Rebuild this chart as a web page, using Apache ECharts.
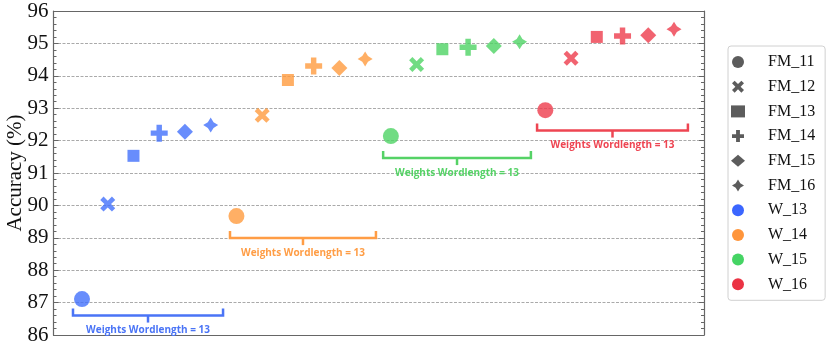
<!DOCTYPE html>
<html lang="en">
<head>
    <meta charset="UTF-8">
    <title>Accuracy</title>
    <script src="https://cdn.jsdelivr.net/npm/echarts@6/dist/echarts.min.js"></script>
</head>
<body style="margin:0">
<div id="container" style="width:830px;height:351px"></div>
<script type="text/javascript">
    // legend / series names
    var shapeNames = ['FM_11', 'FM_12', 'FM_13', 'FM_14', 'FM_15', 'FM_16'];
    var groupNames = ['W_13', 'W_14', 'W_15', 'W_16'];

    // accuracy (%) per weights wordlength, one value per FM wordlength
    var accW13 = [87.11, 90.04, 91.53, 92.23, 92.27, 92.48];
    var accW14 = [89.67, 92.78, 93.87, 94.30, 94.24, 94.52];
    var accW15 = [92.14, 94.35, 94.82, 94.88, 94.92, 95.05];
    var accW16 = [92.94, 94.54, 95.20, 95.23, 95.25, 95.44];

    // bracket annotations (x in point index units, y in accuracy)
    var bracketStart = [-0.35, 5.75, 11.7, 17.68];
    var bracketEnd = [5.48, 11.42, 17.44, 23.54];
    var bracketY = [86.6, 88.99, 91.46, 92.31];
    var bracketText = ['Weights Wordlength = 13', 'Weights Wordlength = 13', 'Weights Wordlength = 13', 'Weights Wordlength = 13'];

    var yTicks = [86, 87, 88, 89, 90, 91, 92, 93, 94, 95, 96];
    var yTitle = 'Accuracy (%)';

    var accs = [accW13, accW14, accW15, accW16];
    var legendColors = ['#0a40ff', '#ff7b0a', '#17c93d', '#e60015'];
    var pointColors = ['#4270fb', '#ff9b3e', '#4dd364', '#ee3c4c'];
    var bracketColors = ['#4a74f6', '#ff9d45', '#55d266', '#ee4552'];

    var symbols = [
        'circle',
        'path://M2.2,0L5,2.8L7.8,0L10,2.2L7.2,5L10,7.8L7.8,10L5,7.2L2.2,10L0,7.8L2.8,5L0,2.2Z',
        'rect',
        'path://M3.4,0H6.6V3.4H10V6.6H6.6V10H3.4V6.6H0V3.4H3.4Z',
        'diamond',
        'path://M5,0L6.9,3.1L10,5L6.9,6.9L5,10L3.1,6.9L0,5L3.1,3.1Z'
    ];
    var symbolSizes = [16, 15, 12, 17, 16, 15];

    var dom = document.getElementById('container');
    var myChart = echarts.init(dom, null, {renderer: 'canvas'});

    var series = [];
    shapeNames.forEach(function (name, k) {
        series.push({
            name: name,
            type: 'scatter',
            symbol: symbols[k],
            symbolSize: symbolSizes[k],
            itemStyle: {color: '#333333'},
            data: accs.map(function (a, g) {
                return {value: [g * 6 + k, a[k]], itemStyle: {color: pointColors[g]}};
            }),
            z: 3
        });
    });
    groupNames.forEach(function (name, g) {
        series.push({
            name: name,
            type: 'scatter',
            symbol: 'circle',
            itemStyle: {color: legendColors[g]},
            data: []
        });
    });

    series.push({
        type: 'custom',
        silent: true,
        data: bracketY.map(function (y, i) { return [bracketStart[i], bracketEnd[i], y, i]; }),
        renderItem: function (params, api) {
            var i = api.value(3);
            var p0 = api.coord([api.value(0), api.value(2)]);
            var p1 = api.coord([api.value(1), api.value(2)]);
            var xm = (p0[0] + p1[0]) / 2;
            var c = bracketColors[i];
            return {
                type: 'group',
                children: [
                    {
                        type: 'polyline',
                        shape: {points: [[p0[0], p0[1] - 7], p0, p1, [p1[0], p1[1] - 7]]},
                        style: {stroke: c, lineWidth: 2.5, fill: null}
                    },
                    {
                        type: 'line',
                        shape: {x1: xm, y1: p0[1], x2: xm, y2: p0[1] + 7},
                        style: {stroke: c, lineWidth: 2.5}
                    },
                    {
                        type: 'text',
                        x: xm,
                        y: p0[1] + 15,
                        style: {
                            text: bracketText[i],
                            fill: c,
                            font: 'bold 10px "Open Sans"',
                            align: 'center',
                            verticalAlign: 'middle'
                        }
                    }
                ]
            };
        },
        z: 2
    });

    var frame = {lineStyle: {color: '#666', width: 1.2}};
    var option = {
        animation: false,
        grid: {left: 53.5, right: 126, top: 11, bottom: 16, outerBoundsMode: 'none'},
        graphic: [{
            type: 'text',
            x: 15,
            y: 173,
            rotation: Math.PI / 2,
            style: {
                text: yTitle,
                font: '21px "Liberation Serif"',
                fill: '#111',
                align: 'center',
                verticalAlign: 'middle'
            }
        }],
        legend: {
            orient: 'vertical',
            left: 728,
            top: 46,
            padding: [8, 10, 8, 3],
            itemWidth: 14,
            itemHeight: 12,
            itemGap: 8.7,
            borderColor: '#d0d0d0',
            borderWidth: 1,
            borderRadius: 3,
            data: shapeNames.concat(groupNames),
            textStyle: {fontFamily: 'Liberation Serif', fontSize: 16, color: '#111', padding: [0, 0, 0, 18], lineHeight: 13}
        },
        xAxis: [
            {type: 'value', min: -1.107, max: 24.165, axisLine: {show: true, onZero: false, lineStyle: frame.lineStyle},
                axisTick: {show: false}, axisLabel: {show: false}, splitLine: {show: false}},
            {type: 'value', position: 'top', min: -1.107, max: 24.165, axisLine: {show: true, onZero: false, lineStyle: frame.lineStyle},
                axisTick: {show: false}, axisLabel: {show: false}, splitLine: {show: false}}
        ],
        yAxis: [
            {
                type: 'value', min: yTicks[0], max: yTicks[yTicks.length - 1], interval: 1,
                axisLine: {show: true, onZero: false, lineStyle: frame.lineStyle},
                axisTick: {show: true, inside: true, length: 5, lineStyle: {color: '#666'}},
                minorTick: {show: true, splitNumber: 5, length: 3, lineStyle: {color: '#666'}},
                axisLabel: {fontFamily: 'Liberation Serif', fontSize: 21, color: '#111', margin: 5},
                splitLine: {show: true, lineStyle: {color: '#aaa', type: [3, 1.5], width: 1}}
            },
            {
                type: 'value', position: 'right', min: yTicks[0], max: yTicks[yTicks.length - 1], interval: 1,
                axisLine: {show: true, onZero: false, lineStyle: frame.lineStyle},
                axisTick: {show: true, inside: true, length: 5, lineStyle: {color: '#666'}},
                minorTick: {show: true, splitNumber: 5, length: 3, lineStyle: {color: '#666'}},
                axisLabel: {show: false},
                splitLine: {show: false}
            }
        ],
        series: series
    };

    myChart.setOption(option);
</script>
</body>
</html>
